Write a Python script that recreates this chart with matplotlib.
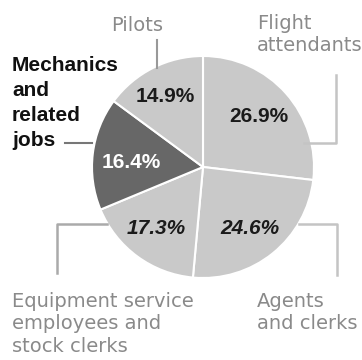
import matplotlib.pyplot as plt

# ---------- DATA ----------
jobs = ["Flight\nattendants", "Agents\nand clerks",
        "Equipment service\nemployees and\nstock clerks",
        "Mechanics\nand\nrelated\njobs", "Pilots"]
shares = [26.9, 24.6, 17.3, 16.4, 14.9]

light = "#c9c9c9"
dark = "#676767"
colors = [light, light, light, dark, light]

W, H = 362, 360
fig = plt.figure(figsize=(W / 100, H / 100), dpi=100)
ax = fig.add_axes([0, 0, 1, 1])

plt.rcParams['font.family'] = ['Liberation Sans', 'DejaVu Sans']

cx, cy, r = 203, H - 167, 111
ax.pie(shares, colors=colors, startangle=90, counterclock=False,
       center=(cx, cy), radius=r, frame=True,
       wedgeprops=dict(edgecolor="white", linewidth=1.5))
ax.set_xlim(0, W)
ax.set_ylim(0, H)
ax.axis("off")

def y(p):
    return H - p

# percentage labels (pixel positions from the reference)
pct_pos = [(259, 117, "normal", "#1a1a1a"),
           (250, 229, "italic", "#1a1a1a"),
           (156, 229, "italic", "#1a1a1a"),
           (131, 162, "normal", "white"),
           (165, 97, "normal", "#1a1a1a")]
for v, (px, py, st, c) in zip(shares, pct_pos):
    ax.text(px, y(py), f"{v}%", ha="center", va="center", fontsize=15,
            fontweight="bold", style=st, color=c)

gray = "#8a8a8a"
fs = 14
lab = dict(fontsize=fs, color=gray, family="DejaVu Sans", linespacing=1.22)
# category labels
ax.text(257, y(14), jobs[0], ha="left", va="top", **lab)
ax.text(257, y(292), jobs[1], ha="left", va="top", **lab)
ax.text(12, y(292), jobs[2], ha="left", va="top", **lab)
ax.text(12, y(56), jobs[3], ha="left", va="top", fontsize=15, color="#111111",
        fontweight="bold", linespacing=1.4)
ax.text(137, y(16), jobs[4], ha="center", va="top", **lab)

# leader lines
ax.plot([157, 157], [y(40), y(68)], color="#999999", lw=1.5)
ax.plot([65, 92], [y(143), y(143)], color="#777777", lw=1.5)
ax.plot([304, 336, 336], [y(143), y(143), y(75)], color="#c4c4c4", lw=1.8)
ax.plot([107, 57, 57], [y(224), y(224), y(273)], color="#aaaaaa", lw=1.8)
ax.plot([299, 337, 337], [y(224), y(224), y(275)], color="#c4c4c4", lw=1.8)

fig.savefig("out.png", dpi=100)
